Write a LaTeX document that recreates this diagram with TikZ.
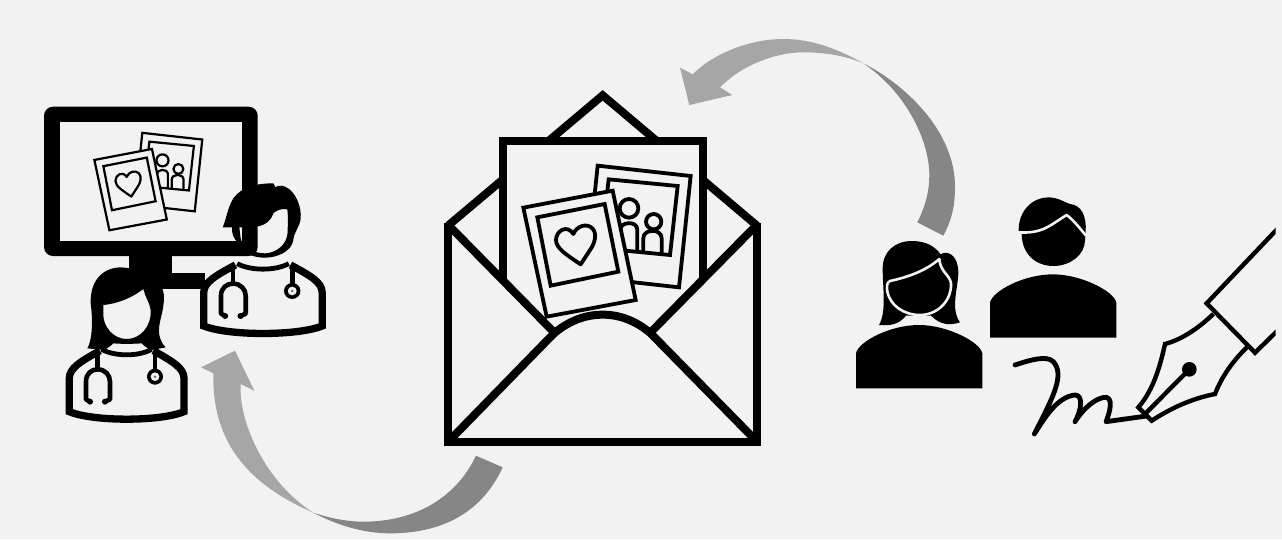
\documentclass[tikz,border=0pt]{standalone}
\definecolor{bgc}{HTML}{F2F2F2}
\definecolor{arrowlight}{HTML}{A6A6A6}
\definecolor{arrowdark}{HTML}{868686}
\tikzset{
  envline/.style={draw=black,line width=8pt,line join=miter},
  photoline/.style={draw=black,fill=bgc,line width=#1,line join=miter},
  peopleline/.style={draw=black,line width=#1,line cap=round,line join=round},
  bgline/.style={draw=bgc,line width=2.6pt,line cap=round,line join=round},
  penline/.style={draw=black,line width=4.4pt,line join=miter},
}
\newcommand{\photopair}[1]{%
  % back photo
  \path[photoline=#1] (503,257)--(782,288)--(747,622)--(468,591)--cycle;
  \path[photoline=#1] (536,298)--(743,318)--(720,525)--(513,505)--cycle;
  \draw[peopleline=#1] (597,385) circle (28);
  \draw[peopleline=#1] (671,425) circle (23);
  \draw[peopleline=#1] (570,505)--(570,450) .. controls (570,425) and (622,420) .. (622,450) -- (622,510);
  \draw[peopleline=#1] (640,512)--(640,475) .. controls (640,445) and (695,445) .. (695,475) -- (695,516);
  % front photo
  \path[photoline=#1] (280,383)--(548,332)--(617,660)--(350,710)--cycle;
  \path[photoline=#1] (322,412)--(524,372)--(565,575)--(362,617)--cycle;
  \draw[peopleline=#1] (452,553) .. controls (410,525) and (378,505) .. (378,480)
     .. controls (378,452) and (412,432) .. (430,462)
     .. controls (440,438) and (470,428) .. (487,445)
     .. controls (502,460) and (495,490) .. (480,510) -- cycle;
}
\newcommand{\dsbody}{%
  \fill[bgc] (28,215) -- (28,115) .. controls (28,85) and (60,65) .. (120,32)
     -- (280,32) .. controls (340,65) and (372,85) .. (372,115) -- (372,215)
     .. controls (300,245) and (100,245) .. (28,215) -- cycle;
  \draw[peopleline=7.3pt,line cap=butt,line join=miter] (120,32) .. controls (60,65) and (28,85) .. (28,115) -- (28,215)
     .. controls (100,245) and (300,245) .. (372,215) -- (372,115) .. controls (372,85) and (340,65) .. (280,32);
  \draw[peopleline=4.8pt,line cap=butt] (125,28) .. controls (165,50) and (235,50) .. (275,28);
  \draw[peopleline=4.6pt] (113,45)--(113,88);
  \draw[peopleline=4.6pt,line cap=round] (90,185) -- (78,178) -- (78,125) .. controls (78,100) and (95,88) .. (113,88)
     .. controls (135,88) and (150,105) .. (150,125) -- (150,178) -- (135,185);
  \fill (90,185) circle (9);
  \fill (135,185) circle (9);
  \draw[peopleline=4.6pt] (285,45)--(285,92);
  \fill (285,110) circle (24);
  \fill[bgc] (285,110) circle (13);
  \fill[black!60] (285,110) circle (4);
}
\newcommand{\personbody}{%
  \fill (48,595) -- (48,490) .. controls (55,455) and (150,405) .. (237,405)
     .. controls (320,405) and (420,455) .. (427,490) -- (427,595) -- cycle;
}
\begin{document}
\begin{tikzpicture}[x=1pt,y=-1pt]
\useasboundingbox (0,0) rectangle (1282,539);
\fill[bgc] (0,0) rectangle (1282,539);

% ---------- curved arrows
\begin{scope}[shift={(670,30)},scale=1/3]
  \fill[arrowdark] (580,100) .. controls (700,160) and (855,300) .. (855,470)
     .. controls (855,530) and (845,570) .. (820,617) -- (742,577)
     .. controls (770,520) and (778,480) .. (778,430)
     .. controls (775,320) and (700,180) .. (580,100) -- cycle;
  \fill[arrowlight] (30,113) -- (68,133) .. controls (130,70) and (240,27) .. (340,27)
     .. controls (430,27) and (510,60) .. (580,100)
     .. controls (520,75) and (460,67) .. (400,67)
     .. controls (310,67) and (210,110) .. (150,172) -- (187,195) -- (58,225) -- cycle;
\end{scope}
\begin{scope}[shift={(190,340)},scale=1/3]
  \fill[arrowdark] (370,518) .. controls (430,538) and (480,545) .. (520,545)
     .. controls (680,545) and (800,470) .. (858,347) -- (938,382)
     .. controls (870,530) and (740,580) .. (600,580)
     .. controls (520,580) and (440,555) .. (370,518) -- cycle;
  \fill[arrowlight] (135,32) -- (193,152) -- (152,132)
     .. controls (145,250) and (230,430) .. (370,518)
     .. controls (190,440) and (65,320) .. (70,100) -- (33,82) -- cycle;
\end{scope}

% ---------- monitor
\fill[rounded corners=9pt] (44,106.7) rectangle (257.7,256);
\fill[bgc] (60,122.3) rectangle (242,240.7);
\fill (129.3,250) rectangle (172.3,280);
\fill (125,272.7) rectangle (205,288.7);
\begin{scope}[shift={(34.15,77.6)},scale=0.215]
  \photopair{2.2pt}
\end{scope}

% ---------- right doctor
\begin{scope}[shift={(194.1,254.3)},xscale=0.3443,yscale=1/3]
  \dsbody
\end{scope}
\begin{scope}[shift={(210,175)},scale=1/3]
  \fill[even odd rule] (38,157) .. controls (50,130) and (52,100) .. (70,70)
     .. controls (95,35) and (140,25) .. (190,25) -- (197,37)
     .. controls (200,32) and (215,30) .. (225,35)
     .. controls (260,50) and (275,100) .. (272,130)
     .. controls (270,155) and (252,170) .. (250,195)
     .. controls (245,230) and (200,248) .. (165,248)
     .. controls (130,248) and (95,235) .. (85,205)
     .. controls (70,190) and (65,175) .. (66,157) -- cycle
     (88,157) .. controls (130,157) and (175,160) .. (190,115)
     .. controls (200,105) and (215,100) .. (232,103)
     .. controls (235,130) and (233,150) .. (233,170)
     .. controls (233,210) and (195,235) .. (165,235)
     .. controls (130,235) and (95,215) .. (92,190) -- cycle;
\end{scope}

% ---------- lower doctor
\begin{scope}[shift={(60,340)},scale=1/3]
  \dsbody
\end{scope}
\begin{scope}[shift={(70,260)},scale=1/3]
  \fill[even odd rule] (150,22) .. controls (230,25) and (280,60) .. (282,110)
     .. controls (282,160) and (262,190) .. (268,225)
     .. controls (272,245) and (280,255) .. (287,262) -- (245,270)
     .. controls (232,265) and (222,258) .. (215,250)
     .. controls (190,252) and (150,252) .. (130,250)
     .. controls (122,258) and (112,266) .. (100,270) -- (52,265)
     .. controls (65,245) and (70,190) .. (62,130)
     .. controls (60,70) and (90,25) .. (150,22) -- cycle
     (100,135) .. controls (150,130) and (190,110) .. (220,87)
     .. controls (225,110) and (240,130) .. (242,150)
     .. controls (245,200) and (210,237) .. (170,237)
     .. controls (130,237) and (100,200) .. (100,165) -- cycle;
\end{scope}

% ---------- envelope
\begin{scope}[shift={(430,80)},scale=1/3]
  \draw[envline] (54,437) -- (518,46) -- (981,437);
  \path[envline,fill=bgc] (218,800) -- (218,184) -- (818,184) -- (818,800);
  \photopair{3.8pt}
  \fill[bgc] (54,437) -- (370,757) .. controls (420,720) and (470,704) .. (518,704)
     .. controls (566,704) and (615,720) .. (665,757) -- (981,437) -- (981,1086) -- (54,1086) -- cycle;
  \draw[envline] (54,430) -- (54,1086) -- (981,1086) -- (981,430);
  \draw[envline] (60,440) -- (372,757);
  \draw[envline] (975,440) -- (662,757);
  \draw[envline,line join=round] (58,1082) -- (372,760) .. controls (420,720) and (470,704) .. (518,704)
     .. controls (566,704) and (615,720) .. (662,760) -- (978,1082);
\end{scope}

% ---------- woman
\begin{scope}[shift={(840,190)},scale=1/3]
  \personbody
\end{scope}
\begin{scope}[shift={(870,195)},scale=1/3]
  \fill (125,138) .. controls (170,138) and (195,155) .. (212,178)
     .. controls (225,168) and (262,170) .. (265,230)
     .. controls (265,280) and (240,340) .. (270,382)
     .. controls (240,392) and (210,390) .. (183,362) -- (108,362)
     .. controls (85,390) and (60,392) .. (27,390)
     .. controls (50,350) and (38,280) .. (38,220)
     .. controls (38,170) and (75,138) .. (125,138) -- cycle;
  \draw[bgline,fill=black] (208,192) .. controls (170,225) and (120,245) .. (60,258)
     .. controls (50,262) and (50,275) .. (52,290)
     .. controls (60,330) and (100,360) .. (150,360)
     .. controls (200,360) and (245,320) .. (243,265)
     .. controls (240,240) and (210,230) .. (208,192) -- cycle;
\end{scope}

% ---------- man
\begin{scope}[shift={(840,190)},scale=1/3]
  \begin{scope}[shift={(402,-152)}]
    \personbody
  \end{scope}
  \fill (536,122) .. controls (535,60) and (580,22) .. (625,22)
     .. controls (655,22) and (680,40) .. (690,42)
     .. controls (725,45) and (740,80) .. (737,125) -- (735,150)
     .. controls (735,195) and (690,228) .. (640,228)
     .. controls (590,228) and (545,195) .. (545,130) -- cycle;
  \draw[bgline,line cap=butt] (533,127) .. controls (610,132) and (630,105) .. (680,75)
     .. controls (700,90) and (720,115) .. (738,137);
\end{scope}

% ---------- pen and signature
\begin{scope}
  \clip (1000,200) rectangle (1275.7,450);
  \begin{scope}[shift={(1010,220)},scale=1/3]
    \draw[penline] (820,8) -- (590,250) -- (735,398) -- (820,315);
    \draw[penline] (610,282) .. controls (560,330) and (510,360) .. (465,372)
       .. controls (450,440) and (430,510) .. (385,562) -- (425,602)
       .. controls (490,560) and (550,535) .. (615,522)
       .. controls (635,470) and (670,420) .. (715,378);
    \draw[penline] (538,448) -- (405,582);
    \fill (538,448) circle (22);
    \draw[penline,line width=4.8pt,line cap=round,line join=round] (15,435) .. controls (60,420) and (110,405) .. (130,425)
       .. controls (165,465) and (130,530) .. (73,642)
       .. controls (100,600) and (140,530) .. (195,525)
       .. controls (220,525) and (215,570) .. (195,605)
       .. controls (220,565) and (260,530) .. (290,532)
       .. controls (315,540) and (290,600) .. (288,605) -- (410,588);
  \end{scope}
\end{scope}
\end{tikzpicture}
\end{document}
